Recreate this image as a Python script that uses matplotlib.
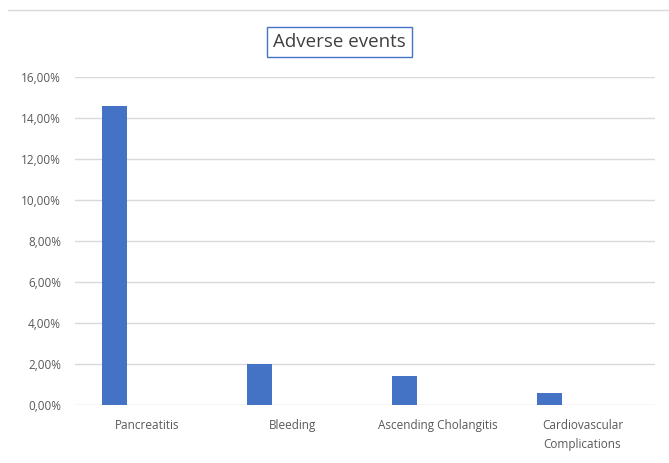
import matplotlib.pyplot as plt
import numpy as np
from matplotlib.ticker import FuncFormatter

# data
categories = ['Pancreatitis', 'Bleeding', 'Ascending Cholangitis', 'Cardiovascular\nComplications']
rates = [14.6, 2.0, 1.4, 0.6]   # percent
yticks = [0, 2, 4, 6, 8, 10, 12, 14, 16]

plt.rcParams['font.family'] = ['Open Sans', 'DejaVu Sans']

fig = plt.figure(figsize=(6.69, 4.63), dpi=100)
ax = fig.add_axes([0.112, 0.1253, 0.867, 0.7084])

x = np.arange(len(categories))
# bars sit in the left part of each category slot (second series is empty)
ax.bar(x - 0.228, rates, width=0.172, color='#4472C4', zorder=3)

ax.set_xlim(-0.5, len(categories) - 0.5)
ax.set_ylim(0, 16)
ax.set_yticks(yticks)
ax.yaxis.set_major_formatter(FuncFormatter(lambda v, p: f'{v:.2f}'.replace('.', ',') + '%'))
ax.set_xticks(x)
ax.set_xticklabels(categories, linespacing=1.6)

ax.grid(axis='y', color='#d9d9d9', linewidth=1, zorder=0)
for s in ax.spines.values():
    s.set_visible(False)
ax.tick_params(axis='both', length=0, colors='#595959', labelsize=8.5)
ax.tick_params(axis='y', pad=10)
ax.tick_params(axis='x', pad=10)

fig.text(0.508, 0.909, 'Adverse events', ha='center', va='center', fontsize=13.5, color='#404040',
         bbox=dict(boxstyle='square,pad=0.32', facecolor='white', edgecolor='#4472C4', linewidth=1))

# chart border at top
fig.add_artist(plt.Line2D([0.012, 1.0], [0.978, 0.978], color='#d9d9d9', linewidth=1))

fig.savefig('out.png', dpi=100)
